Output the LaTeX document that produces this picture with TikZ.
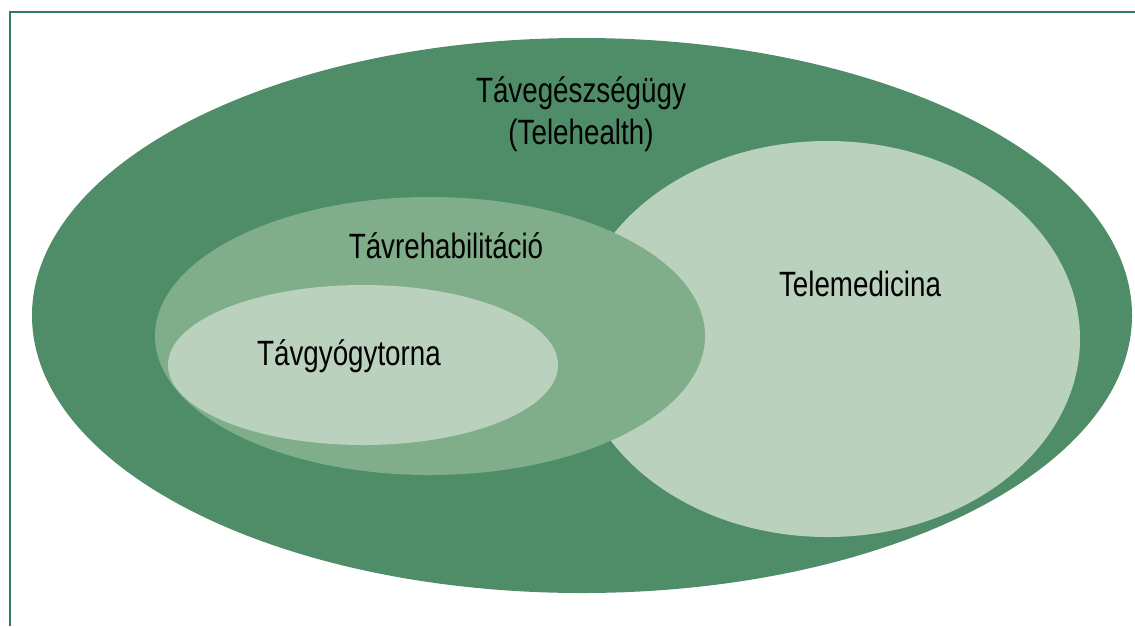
\documentclass[tikz,border=0pt]{standalone}
\usepackage{fontspec}
\setmainfont[FakeStretch=0.79]{Liberation Sans}
\usetikzlibrary{calc}

\definecolor{darkgreen}{HTML}{4F8D68}
\definecolor{midgreen}{HTML}{80AE8B}
\definecolor{lightgreen}{HTML}{BAD2BD}
\definecolor{framegreen}{HTML}{2F7D5C}

\tikzset{
  label/.style={font=\fontsize{20}{24}\selectfont, text=black, align=center, inner sep=0pt}
}

\begin{document}
\begin{tikzpicture}[x=0.02cm, y=-0.02cm]
\useasboundingbox (0,0) rectangle (1135,626);
\fill[white] (0,0) rectangle (1135,626);

% frame
\draw[framegreen, line width=1.2pt] (10,626) -- (10,12) -- (1135,12);

% sets
\fill[darkgreen] (582,315.5) ellipse [x radius=550, y radius=277.5];
\fill[lightgreen] (827.5,339) ellipse [x radius=252.5, y radius=198];
\fill[midgreen] (430,336) ellipse [x radius=275, y radius=139];
\fill[lightgreen] (363,365) ellipse [x radius=195, y radius=80];

% labels
\node[label] (T1) at (581,114) {Távegészségügy\\(Telehealth)};
\node[label] (T2) at (446,246) {Távrehabilitáció};
\node[label] (T3) at (860,284) {Telemedicina};
\node[label] (T4) at (349,356) {Távgyógytorna};
\end{tikzpicture}
\end{document}
